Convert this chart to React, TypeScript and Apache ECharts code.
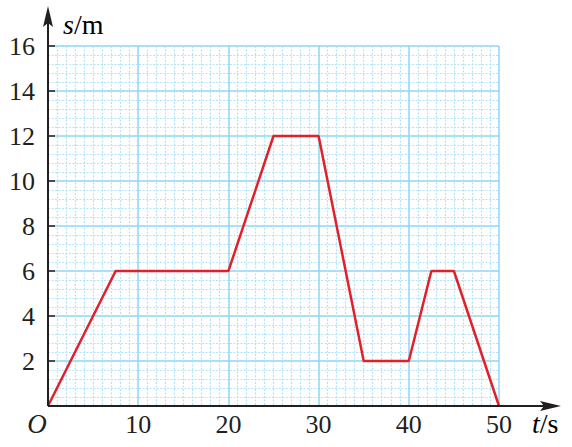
import React, { useEffect, useRef } from "react";
import * as echarts from "echarts";

const tValues = [0, 7.5, 20, 25, 30, 35, 40, 42.5, 45, 50];
const sValues = [0, 6, 6, 12, 12, 2, 2, 6, 6, 0];
const xMax = 50;
const yMax = 16;

const GL = 48, GT = 46, GR = 572 - 499, GB = 447 - 406;
const FONT = "Liberation Serif";
const DARK = "#231f20";
const FS = 26;
const TFS = 28;

const labelRich = { a: { fontFamily: FONT, fontSize: FS, color: DARK } };

export default function App() {
  const ref = useRef<HTMLDivElement>(null);
  useEffect(() => {
    const chart = echarts.init(ref.current!, null, { renderer: "svg" });
    const data = tValues.map((t, i) => [t, sValues[i]]);
    const ox = GL, oy = 447 - GB;
    chart.setOption({
      animation: false,
      textStyle: { fontFamily: FONT, fontSize: FS },
      grid: { left: GL, top: GT, right: GR, bottom: GB },
      xAxis: {
        type: "value", min: 0, max: xMax, interval: 10,
        axisLine: { show: false }, axisTick: { show: false },
        axisLabel: { fontFamily: FONT, fontSize: FS, color: DARK, margin: 5, rich: labelRich,
          formatter: (v: number) => (v === 0 ? "" : `{a|${v}}`) },
        splitLine: { show: true, lineStyle: { color: "#8dd6f4", width: 1.5 } },
        minorTick: { show: false, splitNumber: 10 },
        minorSplitLine: { show: true, lineStyle: { color: "#b3e3f8", width: 1.2, type: [2, 1.5] } },
      },
      yAxis: {
        type: "value", min: 0, max: yMax, interval: 2,
        axisLine: { show: false },
        axisTick: { show: true, inside: true, length: 7, lineStyle: { color: DARK, width: 1.5 } },
        axisLabel: { fontFamily: FONT, fontSize: FS, color: DARK, margin: 13, rich: labelRich,
          formatter: (v: number) => (v === 0 ? "" : `{a|${v}}`) },
        splitLine: { show: true, lineStyle: { color: "#8dd6f4", width: 1.5 } },
        minorTick: { show: false, splitNumber: 5 },
        minorSplitLine: { show: true, lineStyle: { color: "#b3e3f8", width: 1.2, type: [2, 1.5] } },
      },
      series: [{
        type: "line", data, symbol: "none",
        lineStyle: { color: "#e3202a", width: 2.5 }, z: 5,
      }],
      graphic: [
        { type: "line", shape: { x1: ox, y1: oy, x2: ox, y2: 14 }, style: { stroke: DARK, lineWidth: 2 }, z: 10 },
        { type: "polygon", shape: { points: [[ox, 6], [ox - 5, 27], [ox, 23], [ox + 5, 27]] }, style: { fill: DARK }, z: 10 },
        { type: "line", shape: { x1: ox, y1: oy, x2: 552, y2: oy }, style: { stroke: DARK, lineWidth: 2 }, z: 10 },
        { type: "polygon", shape: { points: [[561, oy], [540, oy - 5], [544, oy], [540, oy + 5]] }, style: { fill: DARK }, z: 10 },
        { type: "text", x: 37, y: 424, style: { text: "O", fontFamily: FONT, fontStyle: "italic", fontSize: 27, fill: DARK, align: "center", verticalAlign: "middle" }, z: 10 },
        { type: "text", x: 63, y: 24, style: { text: "{i|s}{n|/m}", verticalAlign: "middle", align: "left",
          rich: { i: { fontFamily: FONT, fontStyle: "italic", fontSize: TFS, color: DARK }, n: { fontFamily: FONT, fontSize: TFS, color: DARK } } }, z: 10 },
        { type: "text", x: 532, y: 423, style: { text: "{i|t}{n|/s}", verticalAlign: "middle", align: "left",
          rich: { i: { fontFamily: FONT, fontStyle: "italic", fontSize: TFS, color: DARK }, n: { fontFamily: FONT, fontSize: TFS, color: DARK } } }, z: 10 },
      ],
    });
    return () => chart.dispose();
  }, []);
  return <div ref={ref} style={{ width: 572, height: 447, position: "absolute", left: 0, top: 0 }} />;
}
